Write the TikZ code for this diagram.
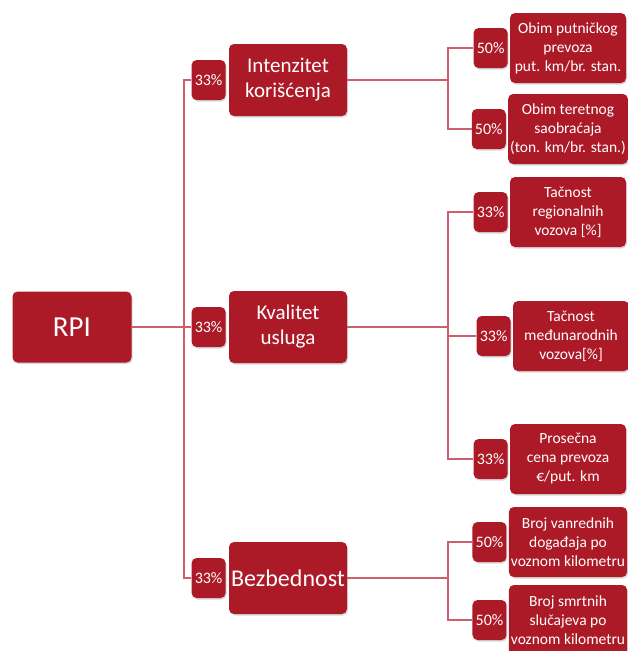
\documentclass[tikz,border=0pt]{standalone}
\usepackage{fontspec}
\setmainfont{Carlito}
\usetikzlibrary{positioning,shadows}
\definecolor{rpired}{RGB}{172,26,40}
\definecolor{rpiline}{RGB}{205,95,108}

\begin{document}
\begin{tikzpicture}[x=1pt,y=-1pt,
 box/.style={fill=rpired,text=white,rounded corners=5pt,align=center,inner sep=2pt,
   drop shadow={shadow xshift=1pt,shadow yshift=-1.5pt,opacity=.3}},
 top/.style={box,minimum width=119pt,minimum height=71pt,font=\fontsize{29}{33}\selectfont},
 crit/.style={box,minimum width=118pt,minimum height=72pt,font=\fontsize{21}{25}\selectfont},
 ind/.style={box,minimum width=116pt,minimum height=70pt,font=\fontsize{15.5}{19}\selectfont},
 pct/.style={box,minimum width=34pt,minimum height=40pt,inner sep=1pt,font=\fontsize{16}{18}\selectfont},
 link/.style={draw=rpiline,line width=1.6pt}]

\useasboundingbox (0,0) rectangle (627,651);

\node[top] (rpi) at (72,327) {RPI};

\node[crit] (int) at (288,80) {Intenzitet\\korišćenja};
\node[crit] (kva) at (288,327) {Kvalitet\\usluga};
\node[crit,font=\fontsize{24}{28}\selectfont] (bez) at (288,578) {Bezbednost};
\node[pct,left=3pt of int] (pint) {33\%};
\node[pct,left=3pt of kva] (pkva) {33\%};
\node[pct,left=3pt of bez] (pbez) {33\%};

\node[ind] (put) at (568,48) {Obim putničkog\\prevoza\\put. km/br. stan.};
\node[ind] (ter) at (568,129) {Obim teretnog\\saobraćaja\\(ton. km/br. stan.)};
\node[ind] (reg) at (568,212) {Tačnost\\regionalnih\\vozova [\%]};
\node[ind] (med) at (571,336) {Tačnost\\međunarodnih\\vozova[\%]};
\node[ind] (cen) at (568,459) {Prosečna\\cena prevoza\\€/put. km};
\node[ind] (van) at (568,542) {Broj vanrednih\\događaja po\\voznom kilometru};
\node[ind] (smr) at (568,620) {Broj smrtnih\\slučajeva po\\voznom kilometru};
\node[pct,left=2pt of put] (pput) {50\%};
\node[pct,left=2pt of ter] (pter) {50\%};
\node[pct,left=2pt of reg] (preg) {33\%};
\node[pct,left=2pt of med] (pmed) {33\%};
\node[pct,left=2pt of cen] (pcen) {33\%};
\node[pct,left=2pt of van] (pvan) {50\%};
\node[pct,left=2pt of smr] (psmr) {50\%};

\coordinate (bus) at ([xshift=52pt]rpi.east);
\draw[link] (rpi.east) -- (bus);
\foreach \n in {pint,pkva,pbez}{\draw[link] (bus) |- (\n.west);}

\coordinate (intbus) at ([xshift=101pt]int.east);
\draw[link] (int.east) -- (intbus);
\foreach \n in {pput,pter}{\draw[link] (intbus) |- (\n.west);}

\coordinate (kvabus) at ([xshift=101pt]kva.east);
\draw[link] (kva.east) -- (kvabus);
\foreach \n in {preg,pmed,pcen}{\draw[link] (kvabus) |- (\n.west);}

\coordinate (bezbus) at ([xshift=101pt]bez.east);
\draw[link] (bez.east) -- (bezbus);
\foreach \n in {pvan,psmr}{\draw[link] (bezbus) |- (\n.west);}

\end{tikzpicture}
\end{document}
